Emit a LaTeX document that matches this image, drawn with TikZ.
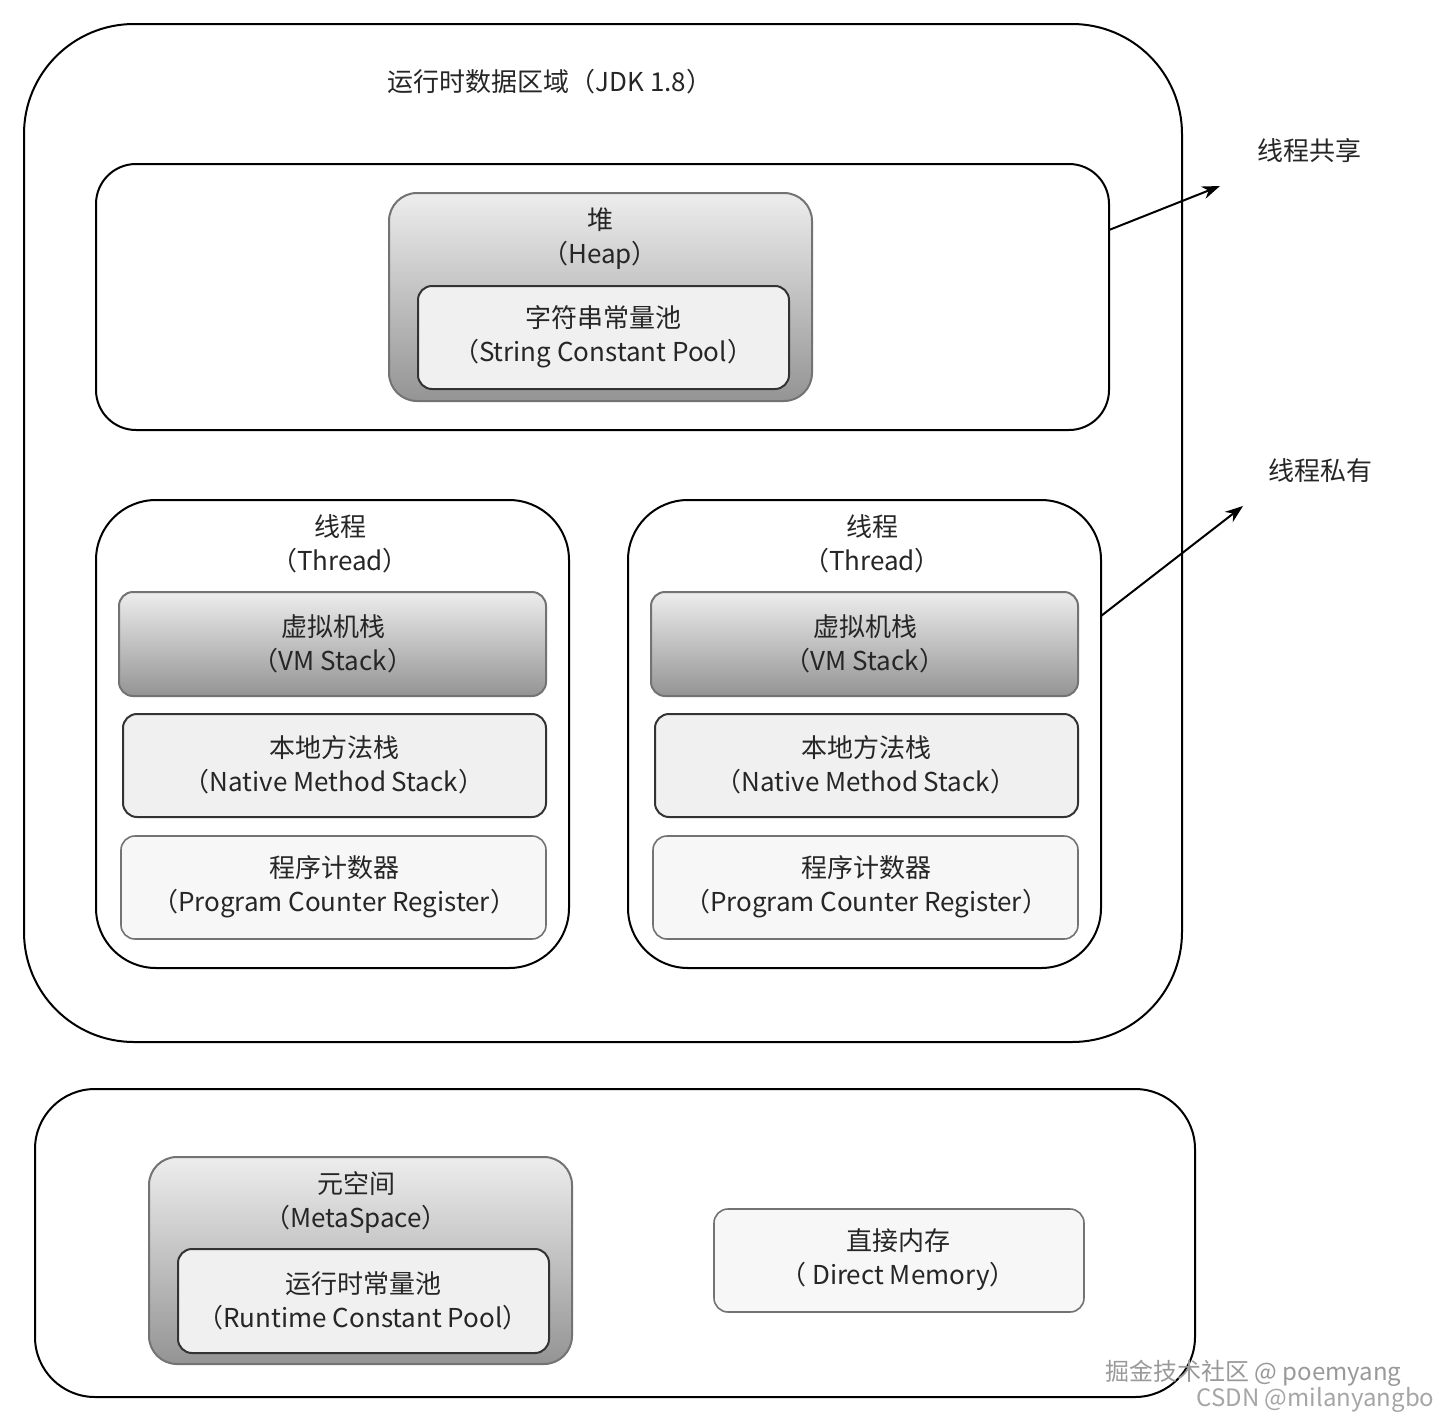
\documentclass[tikz,border=0pt]{standalone}
\usepackage{fontspec}
\setmainfont{Noto Sans CJK SC}
\usetikzlibrary{arrows.meta}
\begin{document}
\begin{tikzpicture}[x=1pt,y=-1pt,
  frame/.style={draw=black,line width=2pt},
  grad/.style={draw=black!55,line width=2pt,rounded corners=28pt,top color=black!7,bottom color=black!42},
  inner/.style={draw=black!80,line width=2pt,rounded corners=14pt,fill=black!6},
  light/.style={draw=black!55,line width=1.6pt,rounded corners=14pt,fill=black!3},
  lbl/.style={font=\fontsize{26}{34}\selectfont,align=center,text=black!85},
  arr/.style={-{Stealth[length=18pt,width=13pt]},line width=2pt}]
\useasboundingbox (0,0) rectangle (1440,1424);
\fill[white] (0,0) rectangle (1440,1424);
\draw[frame,rounded corners=110pt] (24,24) rectangle (1182,1042);
\node[lbl] (title) at (550,82) {运行时数据区域（JDK 1.8）};
\draw[frame,rounded corners=40pt] (96,164) rectangle (1109,430);
\coordinate (shareA) at (1109,230);
\coordinate (shareB) at (1220,186);
\draw[grad] (389,193) rectangle (812,401);
\node[lbl] (heap) at (600,239) {堆\\（Heap）};
\draw[inner] (418,286) rectangle (789,389);
\node[lbl] (scp) at (603,337) {字符串常量池\\（String Constant Pool）};
\foreach \dx/\n in {0/a,532/b}{
  \begin{scope}[xshift=\dx]
  \draw[frame,rounded corners=60pt] (96,500) rectangle (569,968);
  \node[lbl] (th\n) at (340,544) {线程\\（Thread）};
  \draw[grad,rounded corners=14pt] (119,592) rectangle (546,696);
  \node[lbl] (vm\n) at (333,644) {虚拟机栈\\（VM Stack）};
  \draw[inner] (123,714) rectangle (546,817);
  \node[lbl] (nm\n) at (334,765) {本地方法栈\\（Native Method Stack）};
  \draw[light] (121,836) rectangle (546,939);
  \node[lbl] (pc\n) at (334,887) {程序计数器\\（Program Counter Register）};
  \end{scope}}
\coordinate (privA) at (1101,616);
\coordinate (privB) at (1243,506);
\draw[arr] (shareA) -- (shareB);
\draw[arr] (privA) -- (privB);
\node[lbl] (share) at (1309,151) {线程共享};
\node[lbl] (priv) at (1320,471) {线程私有};
\draw[frame,rounded corners=60pt] (35,1089) rectangle (1195,1397);
\draw[grad] (149,1157) rectangle (572,1364);
\node[lbl] (meta) at (356,1202) {元空间\\（MetaSpace）};
\draw[inner] (178,1249) rectangle (549,1353);
\node[lbl] (rcp) at (363,1301) {运行时常量池\\（Runtime Constant Pool）};
\draw[light] (714,1209) rectangle (1084,1312);
\node[lbl] (dm) at (898,1260) {直接内存\\（ Direct Memory）};
\node[font=\fontsize{24}{28}\selectfont,text=black!40,anchor=east] (wm1) at (1405,1373) {掘金技术社区 @ poemyang};
\node[font=\fontsize{24}{28}\selectfont,text=black!35,anchor=east] (wm2) at (1438,1400) {CSDN @milanyangbo};
\end{tikzpicture}
\end{document}
